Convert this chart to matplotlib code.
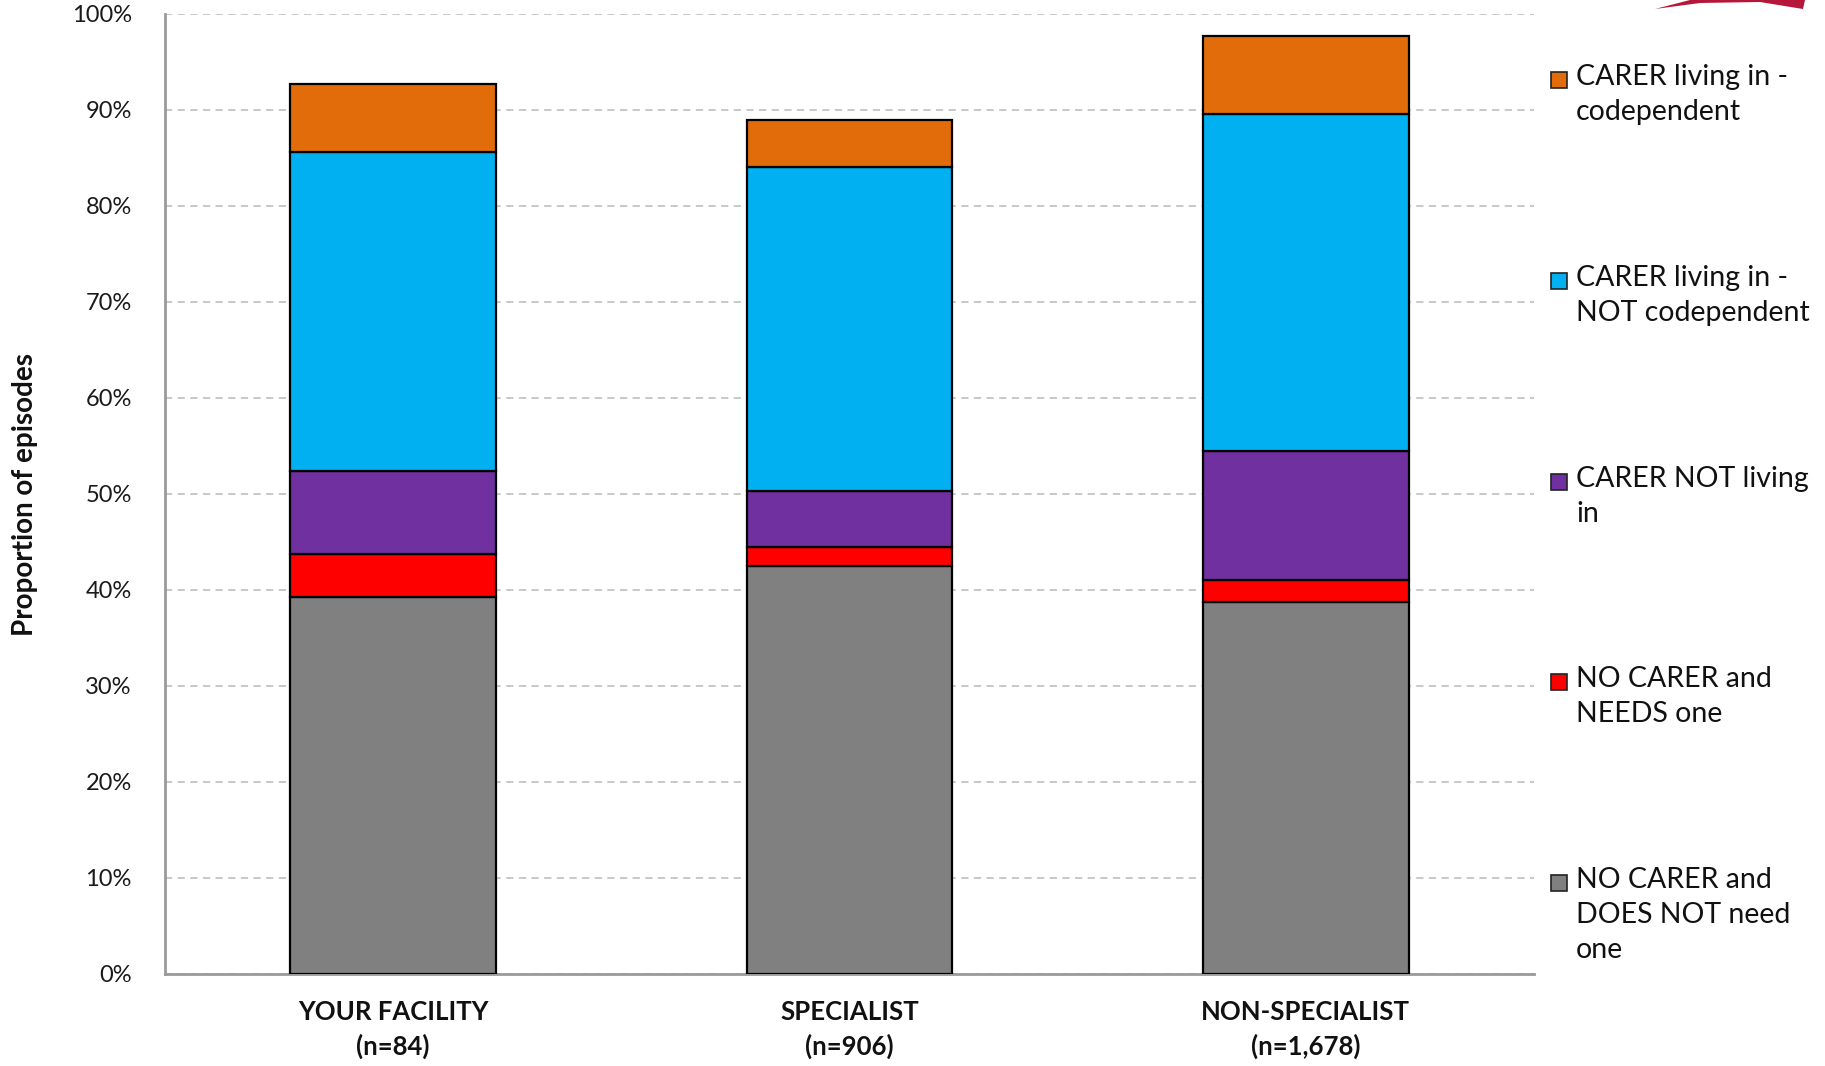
import matplotlib
matplotlib.use("Agg")
import matplotlib.pyplot as plt
from matplotlib.patches import Rectangle, Polygon
import numpy as np

categories = ["YOUR FACILITY\n(n=84)", "SPECIALIST\n(n=906)", "NON-SPECIALIST\n(n=1,678)"]
series_names = [
    "NO CARER and\nDOES NOT need\none",
    "NO CARER and\nNEEDS one",
    "CARER NOT living\nin",
    "CARER living in -\nNOT codependent",
    "CARER living in -\ncodependent",
]
no_carer_not_needed = [39.3, 42.5, 38.7]
no_carer_needs = [4.5, 2.0, 2.3]
carer_not_living_in = [8.6, 5.8, 13.5]
carer_living_not_codep = [33.2, 33.8, 35.1]
carer_living_codep = [7.1, 4.9, 8.1]
series_values = [no_carer_not_needed, no_carer_needs, carer_not_living_in,
                 carer_living_not_codep, carer_living_codep]
colors = ["#808080", "#FF0000", "#7030A0", "#00B0F0", "#E36C0A"]
yticks = [0, 10, 20, 30, 40, 50, 60, 70, 80, 90, 100]
ytick_labels = [f"{v}%" for v in yticks]

plt.rcParams['font.family'] = ['Lato', 'DejaVu Sans']

W, H = 1825, 1066
fig = plt.figure(figsize=(W / 100, H / 100), dpi=100)
ax = fig.add_axes([165 / W, 1 - 974 / H, (1534 - 165) / W, (974 - 14) / H])

x = np.arange(len(categories))
bottom = np.zeros(len(categories))
for vals, col in zip(series_values, colors):
    ax.bar(x, vals, width=0.45, bottom=bottom, color=col, edgecolor="black",
           linewidth=1.6, zorder=3)
    bottom += np.array(vals)

ax.set_xlim(-0.5, 2.5)
ax.set_ylim(0, 100)
ax.set_yticks(yticks)
ax.set_yticklabels(ytick_labels, fontsize=17, color="#1a1a1a")
ax.set_xticks(x)
ax.set_xticklabels(categories, fontsize=18.5, fontweight="bold", color="#111111",
                   linespacing=1.45)
ax.tick_params(axis="y", length=0, pad=24)
ax.tick_params(axis="x", length=0, pad=19)
ax.yaxis.grid(True, linestyle=(0, (4, 3)), color="#c4c4c4", linewidth=1.3, zorder=0)
ax.set_axisbelow(True)
for s in ["top", "right"]:
    ax.spines[s].set_visible(False)
for s in ["left", "bottom"]:
    ax.spines[s].set_color("#9a9a9a")
    ax.spines[s].set_linewidth(2)

ax.set_ylabel("Proportion of episodes", fontsize=20, fontweight="bold",
              color="#111111")
ax.yaxis.set_label_coords(-(165 - 38) / (1534 - 165), 0.5)

# custom legend on the right, top entry = last series
legend_centers = [80, 281, 482, 682, 883]
order = list(range(len(series_names)))[::-1]
for yc, idx in zip(legend_centers, order):
    fig.add_artist(Rectangle((1551 / W, 1 - (yc + 8) / H), 16 / W, 16 / H,
                             facecolor=colors[idx], edgecolor="#222222",
                             linewidth=1.2, transform=fig.transFigure))
    fig.text(1576 / W, 1 - (yc - 16) / H, series_names[idx], fontsize=20.5,
             va="top", ha="left", color="#111111", linespacing=1.42)

# partial logo at top right
fig.add_artist(Polygon([[1655 / W, 1 - 9 / H], [1690 / W, 1.0], [1805 / W, 1.0],
                        [1803 / W, 1 - 9 / H], [1760 / W, 1 - 2 / H], [1700 / W, 1 - 3 / H]],
                       closed=True, facecolor="#B5173A", edgecolor="none",
                       transform=fig.transFigure))

fig.savefig("out.png", dpi=100)
